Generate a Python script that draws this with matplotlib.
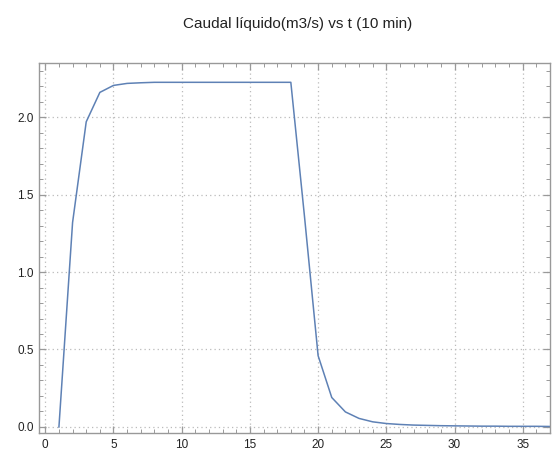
import numpy as np
import matplotlib
matplotlib.use("Agg")
import matplotlib.pyplot as plt
from matplotlib.ticker import MultipleLocator

# -------- DATA --------
t = list(range(1, 38))
caudal = [0.0, 1.32, 1.97, 2.16, 2.205, 2.218, 2.222, 2.225, 2.225, 2.225,
          2.225, 2.225, 2.225, 2.225, 2.225, 2.225, 2.225, 2.225, 1.36, 0.46,
          0.19, 0.097, 0.055, 0.033, 0.022, 0.016, 0.012, 0.010, 0.008, 0.007,
          0.006, 0.005, 0.005, 0.004, 0.004, 0.004, 0.003]
titulo = "Caudal líquido(m3/s) vs t (10 min)"

# -------- PLOT --------
plt.rcParams['font.family'] = ['Liberation Sans', 'DejaVu Sans']

fig = plt.figure(figsize=(5.55, 4.53), dpi=100)
ax = fig.add_axes([0.0708, 0.0442, 0.9202, 0.8158])

ax.plot(t, caudal, color="#5E81B5", lw=1.1)

ax.set_xlim(-0.44, 37.0)
ax.set_ylim(-0.039, 2.347)

ax.xaxis.set_major_locator(MultipleLocator(5))
ax.xaxis.set_minor_locator(MultipleLocator(1))
ax.yaxis.set_major_locator(MultipleLocator(0.5))
ax.yaxis.set_minor_locator(MultipleLocator(0.1))
ax.yaxis.set_major_formatter(matplotlib.ticker.FormatStrFormatter('%.1f'))

ax.grid(True, which="major", color="#bbbbbb", linestyle=(0, (1, 2.5)), lw=0.9)

frame_col = "#999999"
for s in ax.spines.values():
    s.set_color(frame_col)
    s.set_linewidth(1.0)

ax.tick_params(which="both", direction="in", top=True, right=True,
               colors=frame_col, labelcolor="#222222", labelsize=8.5)
ax.tick_params(which="major", length=5, width=0.9, pad=4)
ax.tick_params(which="minor", length=3, width=0.7)

fig.suptitle(titulo, x=0.537, y=0.963, fontsize=11, color="#222222")

fig.savefig("out.png", dpi=100)
